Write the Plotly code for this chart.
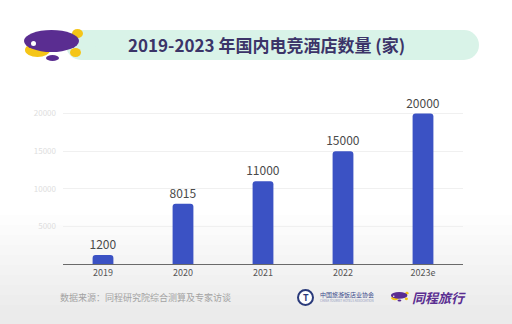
import plotly.graph_objects as go

# Number of e-sports hotels in China, 2019-2023 (2023 estimated)
years = ["2019", "2020", "2021", "2022", "2023e"]
hotels = [1200, 8015, 11000, 15000, 20000]
y_ticks = [5000, 10000, 15000, 20000]

W, H = 512, 324
FONT = "Noto Sans CJK SC"


def px(x):
    return x / W


def py(y):
    return 1 - y / H


def ellipse(x0, x1, y0, y1, color, **kw):
    return dict(type="circle", xref="paper", yref="paper",
                x0=px(x0), x1=px(x1), y0=py(y1), y1=py(y0),
                fillcolor=color, line_width=0, **kw)


shapes = []

# soft grey haze towards the bottom of the card
for i in range(10):
    shapes.append(dict(type="rect", xref="paper", yref="paper",
                       x0=0, x1=1, y0=0, y1=py(215 + i * 10),
                       fillcolor="#7a7a7a", opacity=0.012, line_width=0,
                       layer="below"))

# title banner: pill shape
bx0, bx1, by0, by1 = 66, 479, 30, 60
r = (by1 - by0) / 2
banner = "#d9f3e8"
shapes += [
    dict(type="rect", xref="paper", yref="paper", x0=px(bx0 + r), x1=px(bx1 - r),
         y0=py(by1), y1=py(by0), fillcolor=banner, line_width=0, layer="below"),
    ellipse(bx1 - 2 * r, bx1, by0, by1, banner, layer="below"),
    ellipse(bx0, bx0 + 2 * r, by0, by1, banner, layer="below"),
]


def blimp(cx, cy, s):
    """Small airship mascot centred at (cx, cy) in pixels, scale s."""
    yellow, purple = "#f5c518", "#5a2d91"
    return [
        # tail fins
        ellipse(cx + 21 * s, cx + 32 * s, cy - 14 * s, cy - 5 * s, yellow),
        ellipse(cx + 19 * s, cx + 30 * s, cy + 5 * s, cy + 14 * s, yellow),
        # belly
        ellipse(cx - 26 * s, cx - 1 * s, cy + 0 * s, cy + 14 * s, yellow),
        # body
        ellipse(cx - 27 * s, cx + 28 * s, cy - 13 * s, cy + 9 * s, purple),
        # gondola
        ellipse(cx - 5 * s, cx + 8 * s, cy + 12 * s, cy + 18 * s, purple),
        # eye
        ellipse(cx - 20 * s, cx - 15 * s, cy - 2 * s, cy + 3 * s, "#ffffff"),
    ]


shapes += blimp(51, 43, 1.0)
shapes += blimp(399, 296, 0.3)

# association emblem
shapes.append(dict(type="circle", xref="paper", yref="paper",
                   x0=px(298), x1=px(313), y0=py(305), y1=py(290),
                   fillcolor="#ffffff", line=dict(color="#2a3a7a", width=2)))

fig = go.Figure()
fig.add_trace(go.Bar(
    x=years, y=hotels,
    width=0.26,
    marker=dict(color="#3b52c4", line_width=0, cornerradius=3),
    text=[str(v) for v in hotels],
    textposition="outside",
    constraintext="none",
    textfont=dict(family=FONT, size=12, color="#4a4a4a"),
    cliponaxis=False,
    hoverinfo="skip",
))


def note(text, x, y, size, color, xanchor="center"):
    return dict(text=text, xref="paper", yref="paper", x=px(x), y=py(y),
                xanchor=xanchor, yanchor="middle", showarrow=False,
                font=dict(family=FONT, size=size, color=color))


annotations = [
    note("<b>2019-2023 年国内电竞酒店数量 (家)</b>", 266, 45, 17, "#3b3468"),
    note("数据来源：同程研究院综合测算及专家访谈", 58, 297, 9, "#a3a3a3", "left"),
    note("<b>T</b>", 305.5, 297.5, 9, "#2a3a7a"),
    note("中国旅游饭店业协会", 318, 294, 6, "#3a4a8a", "left"),
    note("CHINA TOURIST HOTELS ASSOCIATION", 318, 301, 3, "#8a93b8", "left"),
    note("<b><i>同程旅行</i></b>", 410, 297, 13, "#5a2d91", "left"),
]

fig.update_layout(
    width=W, height=H,
    margin=dict(l=0, r=0, t=0, b=0),
    paper_bgcolor="#ffffff", plot_bgcolor="rgba(0,0,0,0)",
    showlegend=False,
    shapes=shapes,
    annotations=annotations,
    font=dict(family=FONT),
    xaxis=dict(domain=[px(63), px(463)], range=[-0.5, 4.5],
               showgrid=False, showline=True, linecolor="#6a6a6a", linewidth=1,
               ticks="", tickfont=dict(size=9, color="#555555"),
               fixedrange=True),
    yaxis=dict(domain=[py(264), py(98)], range=[0, 22060],
               tickvals=y_ticks, ticktext=[str(v) for v in y_ticks],
               showgrid=True, gridcolor="#f0f0f0", gridwidth=1,
               zeroline=False, showline=False, ticks="",
               tickfont=dict(size=8, color="#dedede"), ticklabelstandoff=6,
               fixedrange=True),
)

fig.write_html("out.html")
